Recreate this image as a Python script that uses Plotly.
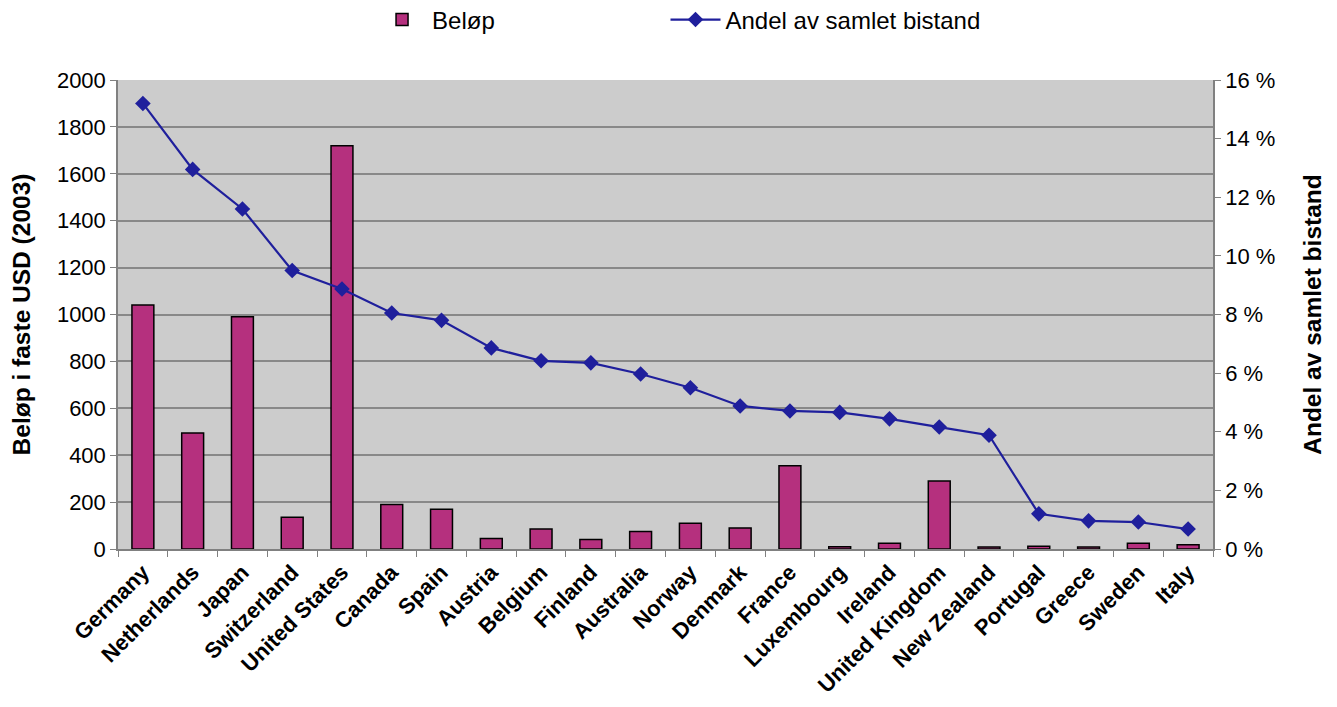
import plotly.graph_objects as go

countries = ["Germany", "Netherlands", "Japan", "Switzerland", "United States", "Canada",
             "Spain", "Austria", "Belgium", "Finland", "Australia", "Norway", "Denmark",
             "France", "Luxembourg", "Ireland", "United Kingdom", "New Zealand", "Portugal",
             "Greece", "Sweden", "Italy"]
belop = [1040, 495, 990, 135, 1720, 190, 170, 45, 85, 40, 75, 110, 90, 355, 10, 25, 290, 8, 12, 8, 25, 18]
andel = [15.2, 12.95, 11.6, 9.5, 8.87, 8.05, 7.8, 6.86, 6.42, 6.35, 5.97, 5.5, 4.88, 4.71, 4.66, 4.44,
         4.16, 3.88, 1.2, 0.96, 0.92, 0.68]

FONT = "Liberation Sans, Arial, sans-serif"

fig = go.Figure()
fig.add_trace(go.Bar(
    x=countries, y=belop, name="Beløp",
    marker=dict(color="#b5307e", line=dict(color="black", width=1.5)),
    yaxis="y", legend="legend",
))
fig.add_trace(go.Scatter(
    x=countries, y=andel, name="Andel av samlet bistand",
    mode="lines+markers",
    line=dict(color="#1f1f9c", width=2.2),
    marker=dict(symbol="diamond", size=12, color="#1f1f9c"),
    yaxis="y2", legend="legend2",
))

leg_common = dict(orientation="h", xanchor="left", y=1.128, yanchor="middle",
                  font=dict(size=24), itemwidth=50, bgcolor="rgba(0,0,0,0)")

fig.update_layout(
    width=1321, height=691,
    margin=dict(l=110, r=116, t=72, b=150, autoexpand=False),
    paper_bgcolor="white",
    plot_bgcolor="#cccccc",
    font=dict(family=FONT, color="black", size=22),
    bargap=0.56,
    showlegend=True,
    legend=dict(x=0.232, **leg_common),
    legend2=dict(x=0.50, **leg_common),
    xaxis=dict(
        type="category", range=[-0.5, len(countries) - 0.5],
        tickangle=-45, tickson="boundaries",
        ticks="outside", ticklen=6, tickcolor="#808080",
        showline=True, linecolor="#808080", linewidth=1.5,
        tickfont=dict(size=22, family=FONT, weight="bold"),
        showgrid=False,
    ),
    yaxis=dict(
        range=[0, 2000], dtick=200, tickformat="d",
        title=dict(text="Beløp i faste USD (2003)", font=dict(size=24.5, weight="bold"), standoff=19),
        showgrid=True, gridcolor="#888888", gridwidth=1.5,
        showline=True, linecolor="#808080", linewidth=1.5,
        ticks="outside", ticklen=6, tickcolor="#808080",
        tickfont=dict(size=22),
        zeroline=False,
    ),
    yaxis2=dict(
        range=[0, 16], dtick=2, ticksuffix=" %", overlaying="y", side="right",
        title=dict(text="Andel av samlet bistand", font=dict(size=24.5, weight="bold"), standoff=30),
        showgrid=False,
        showline=True, linecolor="#808080", linewidth=1.5,
        ticks="outside", ticklen=6, tickcolor="#808080",
        tickfont=dict(size=22),
        zeroline=False,
    ),
)

fig.write_html("out.html")
